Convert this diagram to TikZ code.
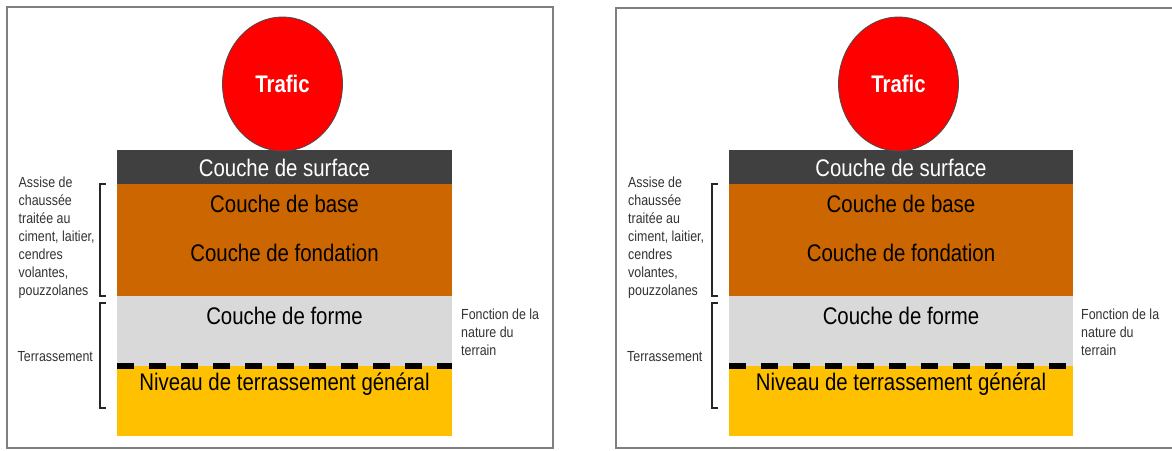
\documentclass[tikz,border=0pt]{standalone}
\usepackage{fontspec}
\setmainfont{Liberation Sans}
\newfontfamily\narrowsans[FakeStretch=0.85]{Liberation Sans}
\usetikzlibrary{shapes.geometric}
\definecolor{surfgray}{HTML}{404040}
\definecolor{basebrown}{HTML}{CC6600}
\definecolor{formegray}{HTML}{D9D9D9}
\definecolor{soilgold}{HTML}{FFC000}
\definecolor{framegray}{HTML}{7F7F7F}
\definecolor{labelgray}{HTML}{333333}
\tikzset{
  big/.style={font=\narrowsans\fontsize{24}{28}\selectfont, inner sep=0pt},
  small/.style={font=\narrowsans\fontsize{14.6}{18}\selectfont, text=labelgray, align=left, inner sep=0pt, anchor=west},
  bracketline/.style={draw=black!85, line width=1.3pt},
  framebox/.style={draw=framegray, line width=1.6pt},
  groundline/.style={line width=5.5pt, dash pattern=on 17pt off 15pt},
  trafic/.style={ellipse, fill=red, draw=black!70, line width=0.8pt, minimum width=120pt, minimum height=134pt, inner sep=0pt, text=white, font=\narrowsans\bfseries\fontsize{24}{28}\selectfont}
}
% #1 prefix, #2 layer left, #3 layer right, #4 circle x, #5 left label x, #6 bracket x, #7 right label x
\newcommand\roadpanel[7]{%
  \pgfmathsetmacro\pmid{(#2+#3)/2}
  \fill[surfgray]   (#2,150) rectangle (#3,184);
  \fill[basebrown]  (#2,184) rectangle (#3,296);
  \fill[formegray]  (#2,296) rectangle (#3,366);
  \fill[soilgold]   (#2,366) rectangle (#3,436);
  \coordinate (#1dl) at (#2,366);
  \coordinate (#1dr) at (#3,366);
  \draw[groundline] (#1dl) -- (#1dr);
  \node[trafic] (#1trafic) at (#4,84) {Trafic};
  \node[big, text=white] (#1surf) at (\pmid,168) {Couche de surface};
  \node[big] (#1base) at (\pmid,204) {Couche de base};
  \node[big] (#1fond) at (\pmid,253) {Couche de fondation};
  \node[big] (#1forme) at (\pmid,316) {Couche de forme};
  \node[big] (#1niv) at (\pmid,384) {Niveau de terrassement général};
  \node[small] (#1assise) at (#5,238) {Assise de\\chaussée\\traitée au\\ciment, laitier,\\cendres\\volantes,\\pouzzolanes};
  \node[small] (#1terr) at (#5-1,357) {Terrassement};
  \node[small] (#1fonc) at (#7,332) {Fonction de la\\nature du\\terrain};
  \coordinate (#1at) at (#6,184);
  \coordinate (#1ab) at (#6,296);
  \coordinate (#1tt) at (#6,303);
  \coordinate (#1tb) at (#6,408);
  \draw[bracketline] ([xshift=6pt]#1at) -- (#1at) -- (#1ab) -- ([xshift=6pt]#1ab);
  \draw[bracketline] ([xshift=6pt]#1tt) -- (#1tt) -- (#1tb) -- ([xshift=6pt]#1tb);
}
\begin{document}
\begin{tikzpicture}[x=1pt, y=-1pt]
  \useasboundingbox (0,0) rectangle (1172,450);
  \fill[white] (0,0) rectangle (1172,450);
  \draw[framebox] (7,7) rectangle (553,448);
  \draw[framebox] (1172,8) -- (616,8) -- (616,448) -- (1172,448);
  \roadpanel{L}{117}{452}{282.5}{18.5}{100}{461}
  \roadpanel{R}{729}{1073}{898.5}{628}{712}{1081}
\end{tikzpicture}
\end{document}
